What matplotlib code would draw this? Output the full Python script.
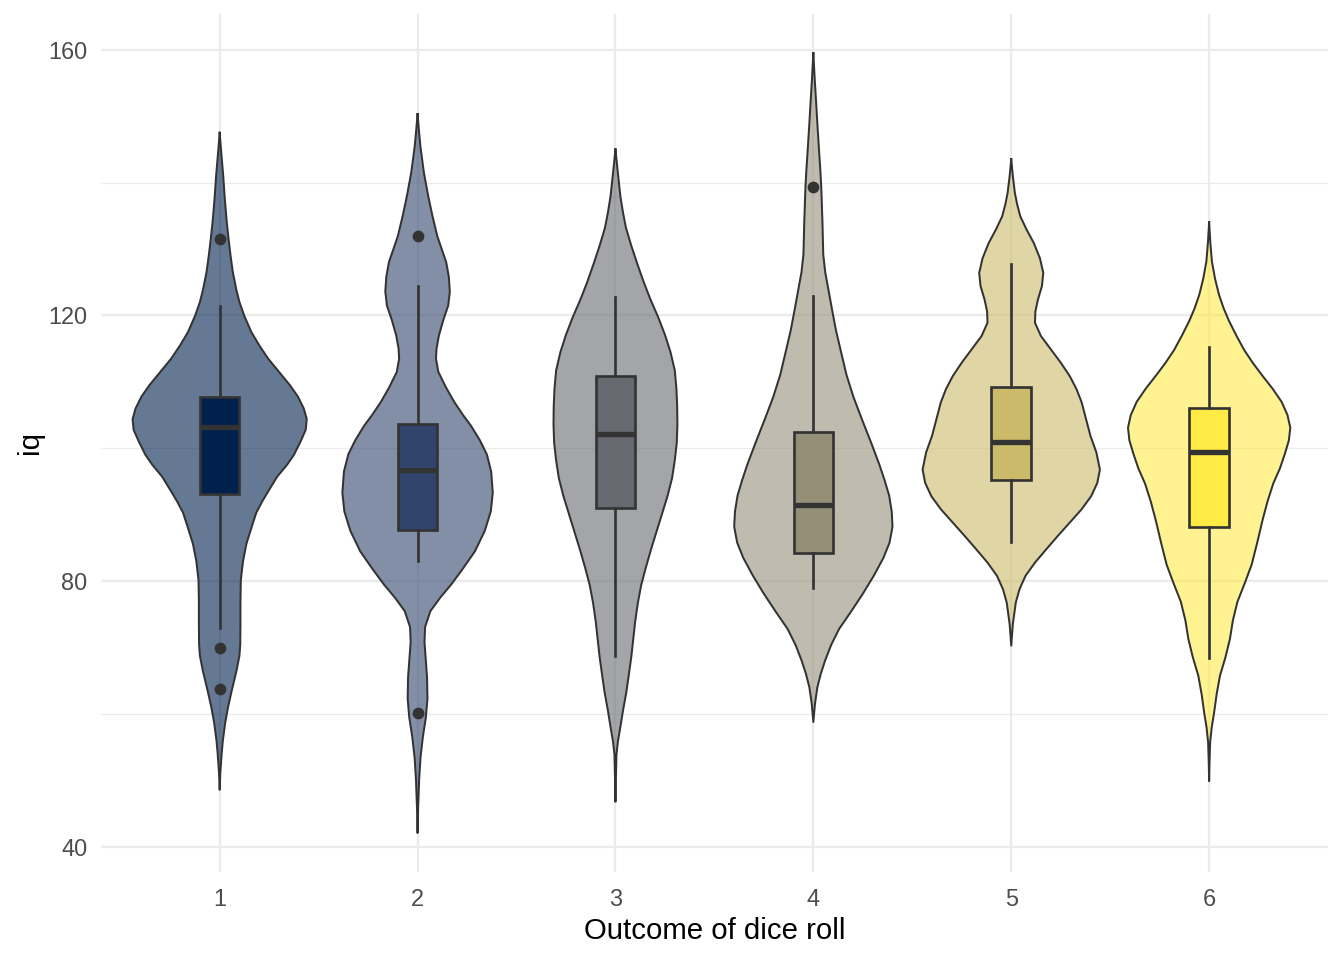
import matplotlib
matplotlib.use('Agg')
from matplotlib import pyplot as plt
from matplotlib.ticker import MultipleLocator

plt.rcParams['font.family'] = ['Liberation Sans', 'DejaVu Sans']

dice = [1, 2, 3, 4, 5, 6]
box_colors = ['#00204D', '#31446B', '#666970', '#958F78', '#CBBA69', '#FFEA46']

# violin outlines: iq level and half width (x units)
iq_1 = [147.5, 144.5, 141.0, 137.5, 134.0, 131.5, 129.0, 126.6, 123.9, 122.0, 119.9,
        117.5, 115.5, 113.5, 111.5, 109.5, 107.8, 106.0, 104.4, 102.8, 101.1, 99.0,
        97.5, 95.7, 93.5, 92.0, 90.3, 88.0, 85.6, 83.0, 80.2, 77.0, 73.5, 70.5,
        68.8, 66.5, 63.4, 61.0, 58.7, 56.0, 54.0, 51.0, 48.6]
width_1 = [0, 0.008, 0.018, 0.026, 0.036, 0.045, 0.055, 0.066, 0.084, 0.10, 0.125,
           0.16, 0.2, 0.245, 0.30, 0.355, 0.395, 0.425, 0.44, 0.435, 0.41, 0.375,
           0.34, 0.29, 0.245, 0.215, 0.185, 0.16, 0.135, 0.118, 0.107, 0.105, 0.105, 0.104,
           0.10, 0.085, 0.06, 0.042, 0.028, 0.016, 0.01, 0.003, 0]

iq_2 = [150.3, 147.5, 145.3, 141.5, 138.1, 135.0, 131.9, 130.0, 128.0, 125.8, 123.6,
        121.5, 119.3, 117.0, 115.0, 113.5, 111.5, 109.2, 107.0, 105.0, 103.4, 101.2,
        99.1, 96.5, 93.3, 90.5, 87.6, 84.5, 81.8, 79.5, 77.5, 75.5, 73.1, 70.8,
        68.8, 65.5, 62.3, 59.5, 56.6, 53.5, 50.1, 46.0, 42.1]
width_2 = [0, 0.008, 0.015, 0.032, 0.053, 0.075, 0.10, 0.122, 0.145, 0.158, 0.163,
           0.155, 0.13, 0.108, 0.096, 0.093, 0.105, 0.143, 0.185, 0.23, 0.27, 0.315,
           0.35, 0.372, 0.38, 0.37, 0.34, 0.29, 0.227, 0.17, 0.114, 0.065, 0.038, 0.035,
           0.040, 0.048, 0.05, 0.042, 0.027, 0.015, 0.008, 0.003, 0]

iq_3 = [145.0, 141.5, 137.9, 135.5, 133.2, 130.5, 127.8, 125.0, 122.4, 119.8, 117.1,
        114.5, 111.7, 109.0, 106.3, 103.6, 100.9, 98.2, 95.5, 92.8, 90.2, 87.5,
        84.8, 82.0, 79.4, 76.7, 74.0, 71.3, 68.6, 66.0, 63.3, 60.5, 57.9, 55.8,
        53.9, 50.0, 46.8]
width_3 = [0, 0.012, 0.025, 0.038, 0.053, 0.08, 0.11, 0.143, 0.177, 0.215, 0.25,
           0.278, 0.30, 0.308, 0.312, 0.313, 0.31, 0.30, 0.286, 0.263, 0.236, 0.208,
           0.18, 0.153, 0.13, 0.113, 0.10, 0.09, 0.08, 0.068, 0.055, 0.038, 0.024, 0.012,
           0.005, 0.002, 0]

iq_4 = [159.5, 155.5, 152.1, 148.5, 144.7, 142.0, 139.3, 134.0, 129.2, 126.5, 123.9,
        120.8, 117.8, 114.5, 111.1, 107.7, 104.4, 101.0, 97.6, 95.2, 92.9, 90.5,
        88.2, 85.8, 83.5, 80.8, 78.1, 75.4, 72.8, 70.4, 68.1, 66.0, 64.0, 61.5, 58.8]
width_4 = [0, 0.007, 0.014, 0.021, 0.029, 0.035, 0.04, 0.046, 0.05, 0.06, 0.076,
           0.095, 0.114, 0.14, 0.167, 0.203, 0.245, 0.29, 0.333, 0.36, 0.383, 0.396,
           0.40, 0.385, 0.354, 0.305, 0.25, 0.19, 0.13, 0.09, 0.06, 0.037, 0.02, 0.008, 0]

iq_5 = [143.5, 141.0, 138.5, 136.7, 134.9, 132.9, 130.9, 128.6, 126.4, 124.4, 122.4,
        120.6, 118.9, 116.9, 114.9, 112.9, 110.9, 108.9, 106.9, 104.4, 101.9, 99.4,
        96.8, 94.8, 92.8, 90.8, 88.8, 86.8, 84.8, 82.8, 80.8, 78.8, 76.8, 73.5, 70.3]
width_5 = [0, 0.008, 0.018, 0.03, 0.046, 0.078, 0.114, 0.145, 0.162, 0.155, 0.135,
           0.122, 0.12, 0.15, 0.20, 0.25, 0.295, 0.33, 0.356, 0.378, 0.40, 0.43,
           0.448, 0.435, 0.404, 0.355, 0.295, 0.235, 0.177, 0.12, 0.072, 0.042, 0.023,
           0.008, 0]

iq_6 = [134.0, 131.0, 128.1, 125.5, 123.1, 121.1, 119.2, 117.0, 114.8, 112.8, 110.9,
        109.0, 107.0, 105.0, 103.1, 101.2, 99.2, 97.0, 94.7, 92.0, 89.2, 85.8,
        82.5, 79.7, 76.9, 74.1, 71.3, 68.5, 65.8, 63.0, 60.2, 58.0, 55.7, 52.8, 49.9]
width_6 = [0, 0.006, 0.014, 0.03, 0.05, 0.073, 0.10, 0.137, 0.177, 0.222, 0.27,
           0.32, 0.366, 0.396, 0.41, 0.403, 0.383, 0.358, 0.324, 0.295, 0.27, 0.243,
           0.215, 0.18, 0.143, 0.12, 0.105, 0.082, 0.055, 0.038, 0.025, 0.013, 0.005,
           0.002, 0]

violin_iq = [iq_1, iq_2, iq_3, iq_4, iq_5, iq_6]
violin_width = [width_1, width_2, width_3, width_4, width_5, width_6]

# boxplot stats
q1 = [93.1, 87.7, 91.0, 84.3, 95.2, 88.2]
median = [103.2, 96.7, 102.2, 91.4, 101.0, 99.4]
q3 = [107.7, 103.7, 110.9, 102.5, 109.2, 106.0]
whisker_low = [73.0, 83.1, 68.8, 79.0, 85.9, 68.4]
whisker_high = [121.4, 124.5, 122.8, 123.0, 127.7, 115.2]
outliers = [[131.5, 69.9, 63.8], [131.9, 60.2], [], [139.3], [], []]

edge = '#333333'
grid = '#EBEBEB'

fig = plt.figure(figsize=(7, 5), dpi=192)
ax = fig.add_axes([0.0751, 0.0917, 0.9129, 0.8937])

for i, d in enumerate(dice):
    ys = violin_iq[i]
    ws = violin_width[i]
    left = [d - w for w in ws]
    right = [d + w for w in ws]
    ax.fill_betweenx(ys, left, right, facecolor=box_colors[i], alpha=0.6,
                     edgecolor='none', zorder=2)
    ax.plot(left + right[::-1], ys + ys[::-1], color=edge, lw=0.75, zorder=3,
            solid_joinstyle='round')

stats = []
for i in range(len(dice)):
    stats.append({'med': median[i], 'q1': q1[i], 'q3': q3[i],
                  'whislo': whisker_low[i], 'whishi': whisker_high[i],
                  'fliers': outliers[i]})

bp = ax.bxp(stats, positions=dice, widths=0.2, patch_artist=True, showcaps=False,
            boxprops=dict(edgecolor=edge, linewidth=1.0),
            whiskerprops=dict(color=edge, linewidth=1.0),
            medianprops=dict(color=edge, linewidth=2.0, solid_capstyle='butt'),
            flierprops=dict(marker='o', markerfacecolor=edge, markeredgecolor=edge,
                            markersize=3.4, linestyle='none'),
            manage_ticks=False, zorder=4)
for patch, c in zip(bp['boxes'], box_colors):
    patch.set_facecolor(c)

all_iq = [v for ys in violin_iq for v in ys]
lo, hi = min(all_iq), max(all_iq)
pad = 0.05 * (hi - lo)
ax.set_ylim(lo - pad, hi + pad)
ax.set_xlim(0.4, 6.6)

ax.set_xticks(dice)
ax.set_xticklabels([str(d) for d in dice])
ax.yaxis.set_major_locator(MultipleLocator(40))
ax.yaxis.set_minor_locator(MultipleLocator(20))
ax.grid(True, which='major', color=grid, linewidth=0.85, zorder=0)
ax.grid(True, which='minor', axis='y', color=grid, linewidth=0.45, zorder=0)
ax.set_axisbelow(True)
for s in ax.spines.values():
    s.set_visible(False)
ax.tick_params(which='both', length=0)
ax.tick_params(axis='x', pad=6.0, labelsize=8.8, labelcolor='#4D4D4D')
ax.tick_params(axis='y', pad=5.0, labelsize=8.8, labelcolor='#4D4D4D')

ax.set_xlabel('Outcome of dice roll', fontsize=11, color='black', labelpad=2.2)
ax.set_ylabel('iq', fontsize=11, color='black', labelpad=1.5)

fig.savefig('out.png', dpi=192)
